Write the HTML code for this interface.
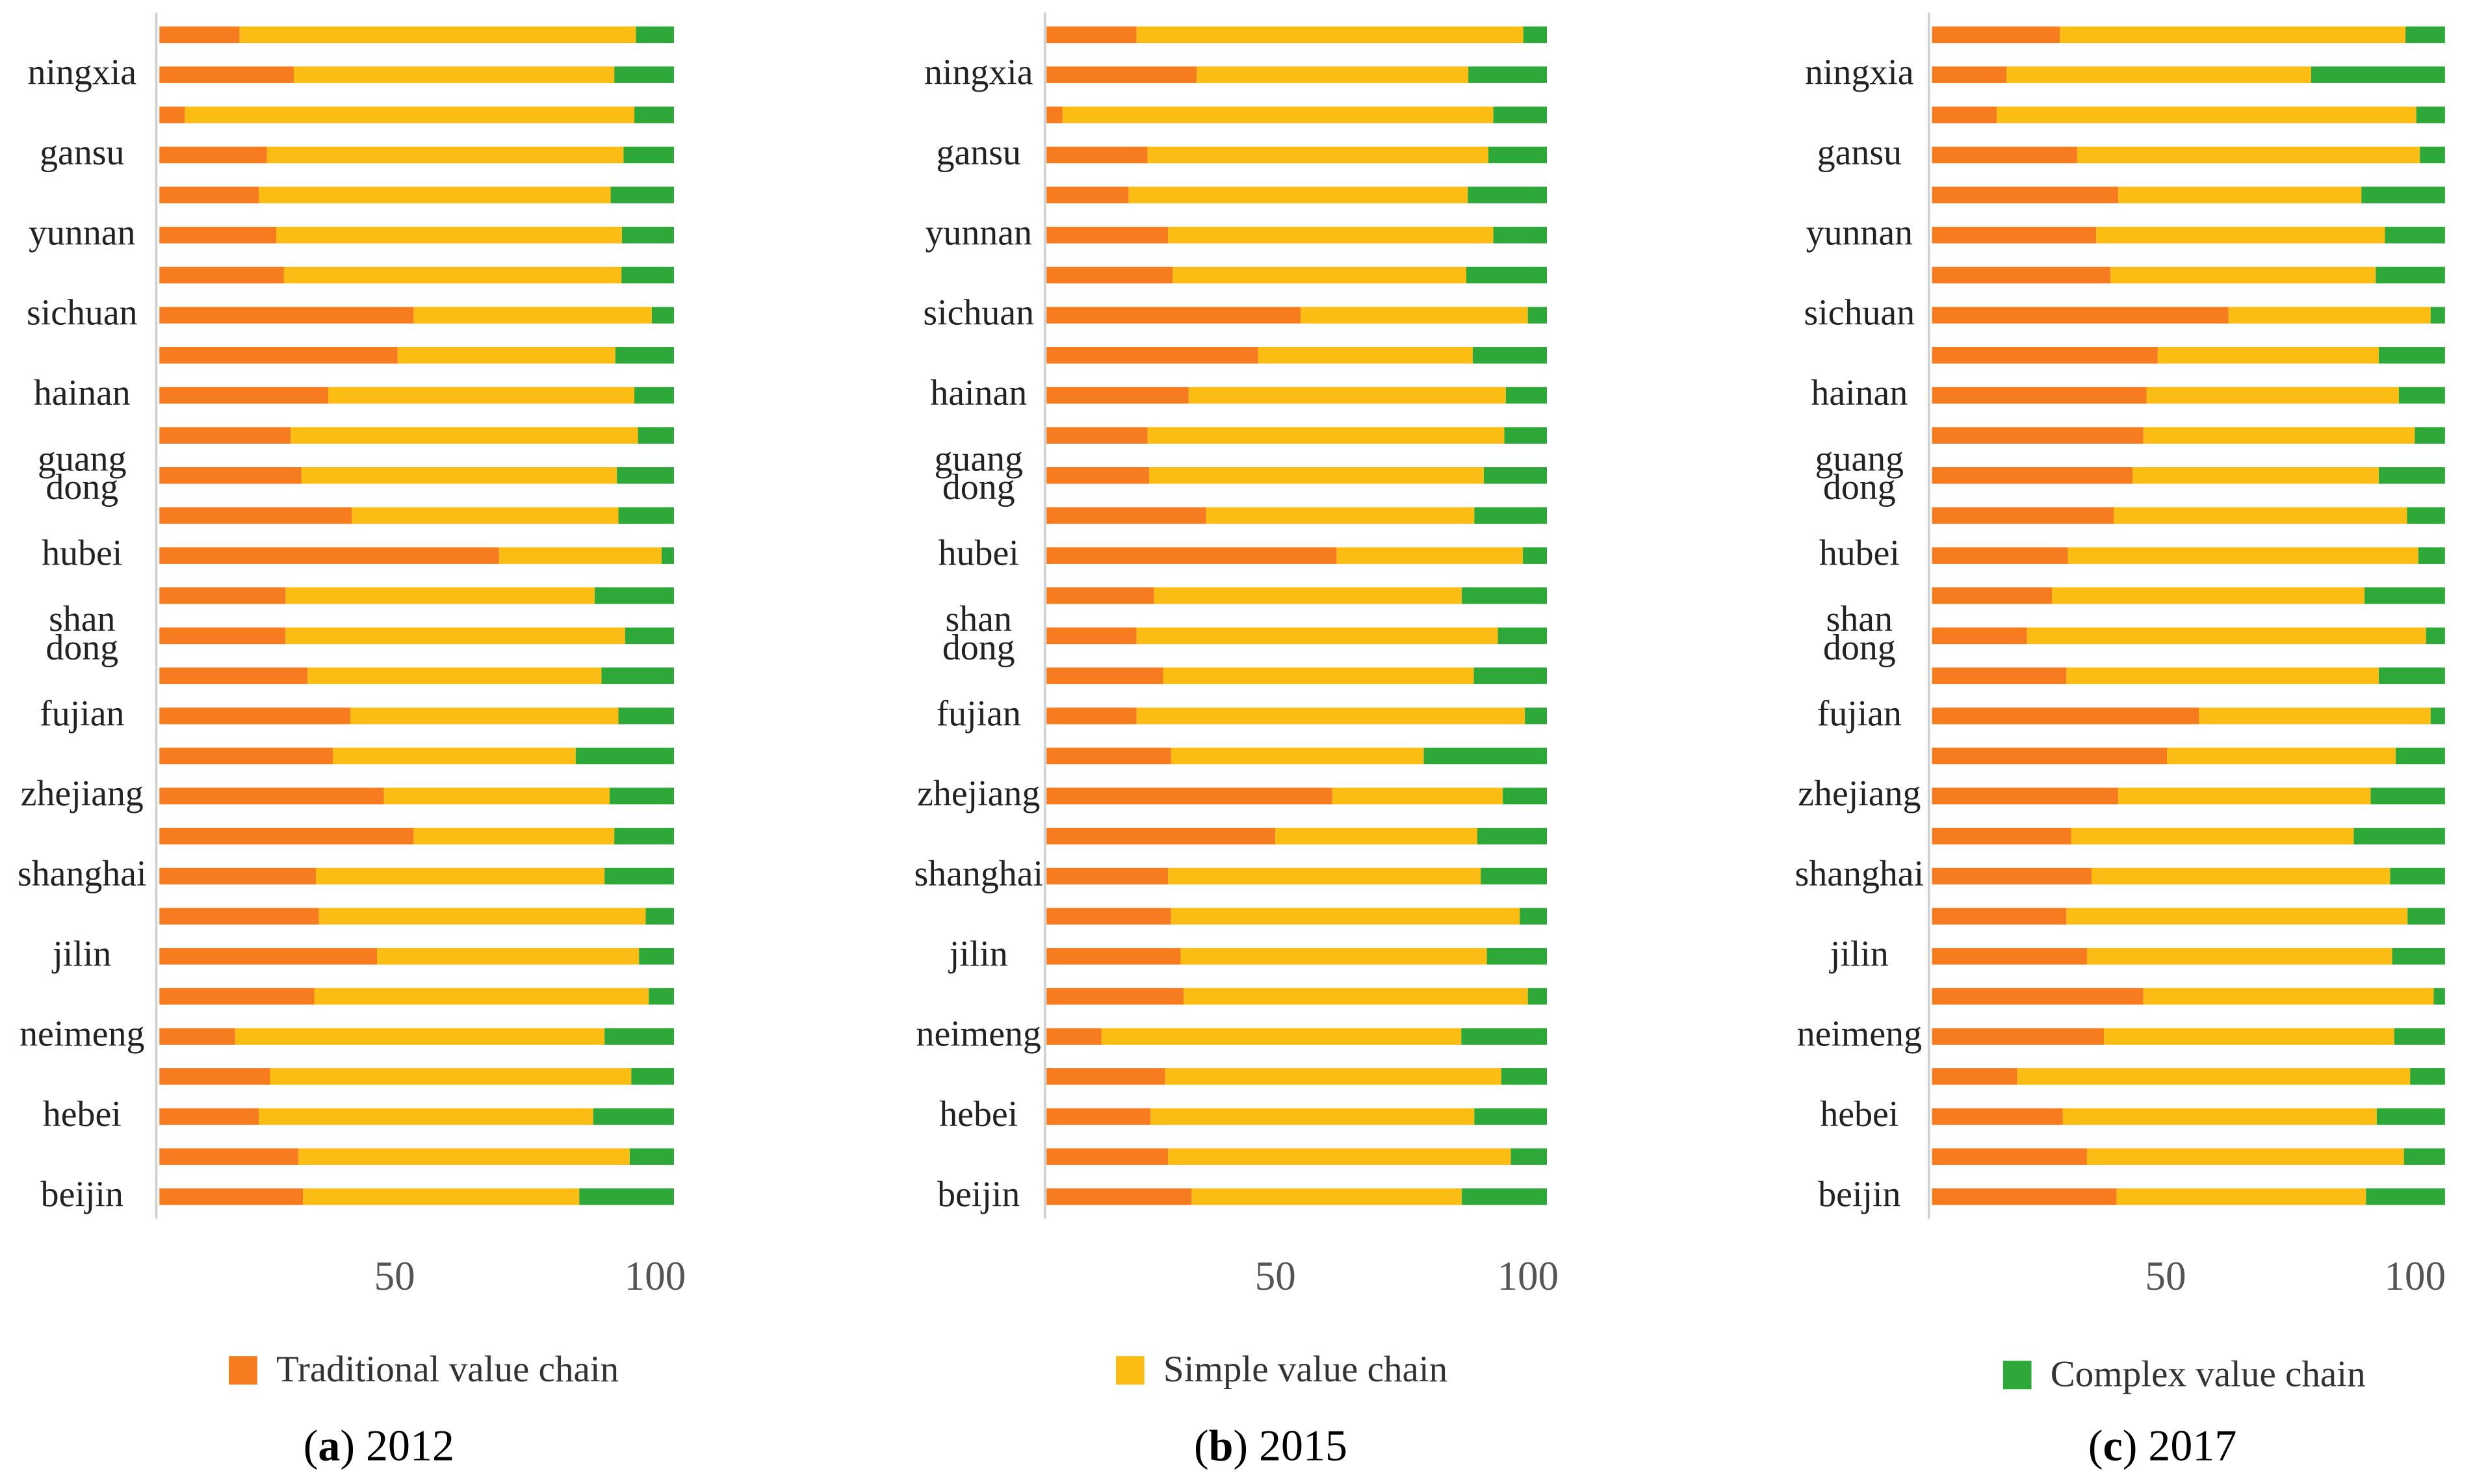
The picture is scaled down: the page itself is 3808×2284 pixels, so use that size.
<!DOCTYPE html>
<html><head><meta charset="utf-8">
<style>
html,body{margin:0;padding:0;background:#fff;}
svg{display:block;}
text{font-family:"Liberation Serif",serif;}
</style></head>
<body>
<svg id="chart" width="3808" height="2284" viewBox="0 0 1568 940" preserveAspectRatio="none" xmlns="http://www.w3.org/2000/svg"></svg>
<script>
const provinces = ["ningxia","gansu","yunnan","sichuan","hainan","guang\ndong","hubei","shan\ndong","fujian","zhejiang","shanghai","jilin","neimeng","hebei","beijin"];
const trad2012 = [15.6,26.1,4.9,20.9,19.3,22.7,24.2,49.4,46.3,32.8,25.5,27.6,37.4,66.0,24.5,24.5,28.8,37.1,33.7,43.6,49.4,30.4,31.0,42.3,30.1,14.7,21.5,19.3,27.0,27.9];
const simp2012 = [77.0,62.3,87.4,69.3,68.4,67.2,65.6,46.3,42.3,59.5,67.5,61.3,51.8,31.6,60.1,66.0,57.1,52.1,47.2,43.9,39.0,56.1,63.5,50.9,65.0,71.8,70.2,65.0,64.4,53.7];
const trad2015 = [18.0,30.0,3.2,20.2,16.4,24.3,25.2,50.8,42.3,28.4,20.2,20.5,31.9,58.0,21.5,18.0,23.3,18.0,24.9,57.1,45.7,24.3,24.9,26.8,27.4,11.0,23.7,20.8,24.3,29.0];
const simp2015 = [77.3,54.3,86.1,68.1,67.8,65.0,58.7,45.4,42.9,63.4,71.3,66.9,53.6,37.2,61.5,72.2,62.1,77.6,50.5,34.1,40.4,62.5,69.7,61.2,68.8,71.9,67.2,64.7,68.5,54.0];
const trad2017 = [24.9,14.5,12.6,28.3,36.3,32.0,34.8,57.8,44.0,41.8,41.2,39.1,35.4,26.5,23.4,18.5,26.2,52.0,45.8,36.3,27.1,31.1,26.2,30.2,41.2,33.5,16.6,25.5,30.2,36.0];
const simp2017 = [67.4,59.4,81.8,66.8,47.4,56.3,51.7,39.4,43.1,49.2,52.9,48.0,57.2,68.3,60.9,77.8,60.9,45.2,44.6,49.2,55.1,58.2,66.5,59.5,56.6,56.6,76.6,61.2,61.8,48.6];
const xTicks = [50,100];

const NS="http://www.w3.org/2000/svg";
const svg=document.getElementById('chart');
function mk(tag,attrs,parent){const e=document.createElementNS(NS,tag);for(const k in attrs)e.setAttribute(k,attrs[k]);(parent||svg).appendChild(e);return e;}
const C={t:"#f77b1f",s:"#fbbd14",c:"#2ea838"};
const panels=[
 {x0:101,x1:427,ax:99,lx:52,trad:trad2012,simp:simp2012,tick:[250,415],cap:"a",year:"2012",capx:240,legx:145,leg:"Traditional value chain",legc:C.t,legy:868},
 {x0:663,x1:980,ax:662,lx:620,trad:trad2015,simp:simp2015,tick:[808,968],cap:"b",year:"2015",capx:805,legx:707,leg:"Simple value chain",legc:C.s,legy:868},
 {x0:1224,x1:1549,ax:1222,lx:1178,trad:trad2017,simp:simp2017,tick:[1372,1530],cap:"c",year:"2017",capx:1370,legx:1269,leg:"Complex value chain",legc:C.c,legy:871}
];
const y0=22,dy=25.38,bh=10.5;
panels.forEach((p,pi)=>{
  const g=mk('g',{});
  
  
  const xs=v=>p.x0+(p.x1-p.x0)*v/100;
  const ax=mk('line',{x1:p.ax,x2:p.ax,y1:8,y2:772,stroke:"#d0d0d0","stroke-width":1.5},g);
  
  
  p.trad.forEach((t,i)=>{
    const y=y0+dy*i-bh/2, s=p.simp[i];
    const r1=mk('rect',{x:xs(0),y:y,width:xs(t)-xs(0),height:bh,fill:C.t},g);
    
    
    const r2=mk('rect',{x:xs(t),y:y,width:xs(t+s)-xs(t),height:bh,fill:C.s},g);
    
    
    const r3=mk('rect',{x:xs(t+s),y:y,width:xs(100)-xs(t+s),height:bh,fill:C.c},g);
    
    
  });
  provinces.forEach((name,k)=>{
    const i=2*k+1, y=y0+dy*i;
    const parts=name.split("\n");
    const tx=mk('text',{x:p.lx,"text-anchor":"middle","font-size":23,fill:"#222"},g);
    
    
    if(parts.length===1){tx.setAttribute('y',y+6);tx.textContent=name;}
    else{
      parts.forEach((pt,j)=>{const ts=mk('tspan',{x:p.lx,y:y-3+j*18},tx);ts.textContent=pt;});
    }
  });
  xTicks.forEach((v,j)=>{
    const tt=mk('text',{x:p.tick[j],y:817,"text-anchor":"middle","font-size":26,fill:"#555"},g);
    
    
    tt.textContent=v;
  });
  const lr=mk('rect',{x:p.legx,y:p.legy-9,width:18,height:18,fill:p.legc},g);
  
  
  const lt=mk('text',{x:p.legx+30,y:p.legy+7,"font-size":23.5,fill:"#333"},g);
  
  
  lt.textContent=p.leg;
  const ct=mk('text',{x:p.capx,y:925,"text-anchor":"middle","font-size":28,fill:"#000"},g);
  
  
  const a=mk('tspan',{},ct);a.textContent="(";
  const b=mk('tspan',{"font-weight":"bold"},ct);b.textContent=p.cap;
  const c=mk('tspan',{},ct);c.textContent=") "+p.year;
});
</script>
</body></html>
